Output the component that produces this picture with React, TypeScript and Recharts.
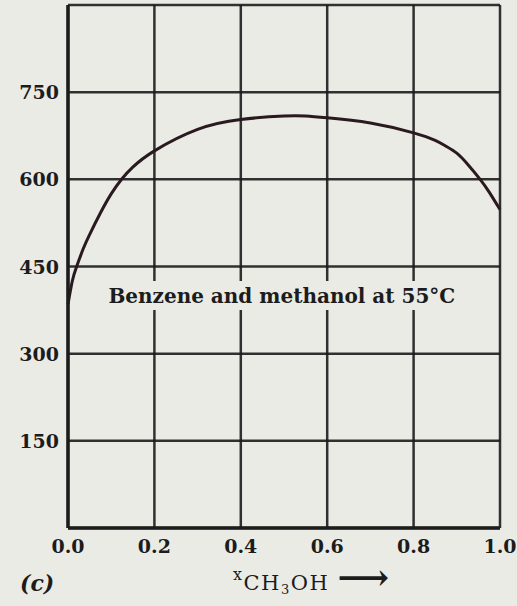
import React from "react";
import {
  LineChart,
  Line,
  XAxis,
  YAxis,
  CartesianGrid,
  ReferenceArea,
} from "recharts";

// mole fraction of methanol and total vapour pressure (Torr)
const moleFraction = [
  0, 0.01, 0.02, 0.035, 0.05, 0.075, 0.1, 0.125, 0.15, 0.2, 0.3, 0.4, 0.5, 0.55, 0.6,
  0.7, 0.8, 0.85, 0.875, 0.9, 0.925, 0.954, 0.975, 1.0,
];
const pressure = [
  385, 425, 450, 480, 505, 542, 575, 601, 621, 649, 686, 703, 709, 709, 706,
  697, 680, 667, 657, 645, 626, 600, 578, 548,
];

const xTicks = [0, 0.2, 0.4, 0.6, 0.8, 1.0];
const yTicks = [150, 300, 450, 600, 750, 900];
const yLabels = ["150", "300", "450", "600", "750", ""];

const caption = "Benzene and methanol at 55°C";

const data = moleFraction.map((x, i) => ({ x, p: pressure[i] }));

const BG = "#ebebe6";
const INK = "#1c1c1c";
const FONT = "'DejaVu Serif', 'Liberation Serif', serif";

const YTick = (props: any) => {
  const { x, y, payload } = props;
  const idx = yTicks.indexOf(payload.value);
  return (
    <text x={x - 1} y={y} dy={7} textAnchor="end" fontFamily={FONT} fontWeight="bold" fontSize={19} fill={INK}>
      {yLabels[idx]}
    </text>
  );
};

const XTick = (props: any) => {
  const { x, y, payload } = props;
  return (
    <text x={x} y={y} dy={17} textAnchor="middle" fontFamily={FONT} fontWeight="bold" fontSize={19} fill={INK}>
      {Number(payload.value).toFixed(1)}
    </text>
  );
};

const XLabel = (props: any) => {
  const vb = props.viewBox || {};
  const cx = vb.x + vb.width / 2;
  const base = vb.y + 62;
  return (
    <g>
      <text x={cx - 51} y={base} textAnchor="start" fontFamily={FONT} fontSize={21} fill={INK} letterSpacing={1.5}>
        <tspan dy={-10} fontSize={16}>x</tspan>
        <tspan dy={10}>CH</tspan>
        <tspan dy={4} fontSize={13}>3</tspan>
        <tspan dy={-4}>OH </tspan>
        <tspan fontSize={36} fontWeight="bold" letterSpacing={0}>⟶</tspan>
      </text>
      <text x={vb.x - 48} y={base + 1} fontFamily={FONT} fontStyle="italic" fontWeight="bold" fontSize={22} fill={INK}>
        (c)
      </text>
    </g>
  );
};

export default function App() {
  return (
    <div style={{ position: "absolute", left: 0, top: 0, width: 517, height: 606, background: BG }}>
      <LineChart width={517} height={606} data={data} margin={{ top: 5, right: 17, bottom: 38, left: 0 }}>
        <CartesianGrid stroke={INK} strokeWidth={2.5} strokeOpacity={0.9} />
        <XAxis
          type="number"
          dataKey="x"
          domain={[0, 1]}
          ticks={xTicks}
          height={40}
          tickLine={false}
          axisLine={{ stroke: INK, strokeWidth: 3.5 }}
          tick={<XTick />}
          label={<XLabel />}
        />
        <YAxis
          type="number"
          domain={[0, 900]}
          ticks={yTicks}
          width={68}
          tickLine={false}
          axisLine={{ stroke: INK, strokeWidth: 3.5 }}
          tick={<YTick />}
        />
        <ReferenceArea
          x1={0.075}
          x2={0.915}
          y1={375}
          y2={425}
          fill={BG}
          fillOpacity={1}
          stroke="none"
          label={{ value: caption, position: "center", fontFamily: FONT, fontWeight: "bold", fontSize: 20, fill: INK }}
        />
        <Line
          type="natural"
          dataKey="p"
          stroke="#2a1a20"
          strokeWidth={3}
          dot={false}
          isAnimationActive={false}
        />
      </LineChart>
    </div>
  );
}
